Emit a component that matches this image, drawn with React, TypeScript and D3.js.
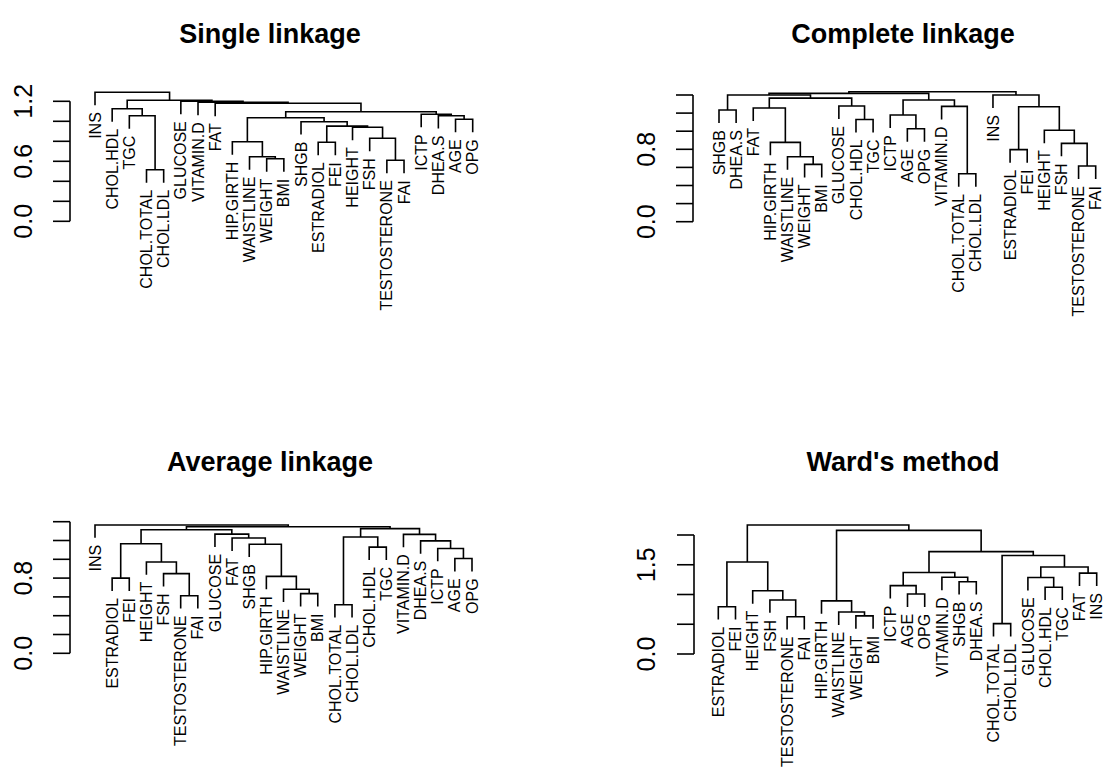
import React from 'react';
import * as d3 from 'd3';

type Child = string | number; // string = leaf label, number = 1-based index of an earlier merge
type Merge = [Child, Child, number];

// ---- Single linkage ----
const singleMerges: Merge[] = [
  ['CHOL.TOTAL', 'CHOL.LDL', 0.515],
  ['TGC', 1, 1.055],
  ['CHOL.HDL', 2, 1.125],
  ['WEIGHT', 'BMI', 0.625],
  ['WAISTLINE', 4, 0.645],
  ['HIP.GIRTH', 5, 0.795],
  ['TESTOSTERONE', 'FAI', 0.61],
  ['FSH', 7, 0.83],
  ['HEIGHT', 8, 0.94],
  ['ESTRADIOL', 'FEI', 0.79],
  [10, 9, 0.952],
  ['SHGB', 11, 0.996],
  [6, 12, 1.035],
  ['AGE', 'OPG', 1.02],
  ['DHEA.S', 14, 1.056],
  ['ICTP', 15, 1.07],
  [13, 16, 1.096],
  ['FAT', 17, 1.18],
  ['VITAMIN.D', 18, 1.19],
  ['GLUCOSE', 19, 1.2],
  [3, 20, 1.21],
  ['INS', 21, 1.29],
];
const singleTicks = [0, 0.2, 0.4, 0.6, 0.8, 1.0, 1.2];
const singleTickLabels = [0, 0.6, 1.2];

// ---- Complete linkage ----
const completeMerges: Merge[] = [
  ['SHGB', 'DHEA.S', 1.234],
  ['WEIGHT', 'BMI', 0.633],
  ['WAISTLINE', 2, 0.718],
  ['HIP.GIRTH', 3, 0.877],
  ['FAT', 4, 1.256],
  ['CHOL.HDL', 'TGC', 1.13],
  ['GLUCOSE', 6, 1.278],
  [5, 7, 1.365],
  [1, 8, 1.4],
  ['AGE', 'OPG', 1.027],
  ['ICTP', 10, 1.179],
  ['CHOL.TOTAL', 'CHOL.LDL', 0.53],
  ['VITAMIN.D', 12, 1.274],
  [11, 13, 1.345],
  [9, 14, 1.418],
  ['TESTOSTERONE', 'FAI', 0.615],
  ['FSH', 16, 0.866],
  ['HEIGHT', 17, 1.01],
  ['ESTRADIOL', 'FEI', 0.796],
  [19, 18, 1.27],
  ['INS', 20, 1.4],
  [15, 21, 1.436],
];
const completeTicks = [0, 0.2, 0.4, 0.6, 0.8, 1.0, 1.2, 1.4];
const completeTickLabels = [0, 0.8];

// ---- Average linkage ----
const averageMerges: Merge[] = [
  ['ESTRADIOL', 'FEI', 0.8],
  ['TESTOSTERONE', 'FAI', 0.612],
  ['FSH', 2, 0.848],
  ['HEIGHT', 3, 0.972],
  [1, 4, 1.165],
  ['WEIGHT', 'BMI', 0.635],
  ['WAISTLINE', 6, 0.682],
  ['HIP.GIRTH', 7, 0.818],
  ['SHGB', 8, 1.16],
  ['FAT', 9, 1.226],
  ['GLUCOSE', 10, 1.268],
  [5, 11, 1.315],
  ['CHOL.TOTAL', 'CHOL.LDL', 0.517],
  ['CHOL.HDL', 'TGC', 1.13],
  [13, 14, 1.237],
  ['AGE', 'OPG', 1.008],
  ['ICTP', 16, 1.115],
  ['DHEA.S', 17, 1.196],
  ['VITAMIN.D', 18, 1.265],
  [15, 19, 1.326],
  [12, 20, 1.347],
  ['INS', 21, 1.365],
];
const averageTicks = [0, 0.2, 0.4, 0.6, 0.8, 1.0, 1.2, 1.4];
const averageTickLabels = [0, 0.8];

// ---- Ward's method ----
const wardMerges: Merge[] = [
  ['ESTRADIOL', 'FEI', 0.795],
  ['TESTOSTERONE', 'FAI', 0.627],
  ['FSH', 2, 0.908],
  ['HEIGHT', 3, 1.062],
  [1, 4, 1.546],
  ['WEIGHT', 'BMI', 0.641],
  ['WAISTLINE', 6, 0.705],
  ['HIP.GIRTH', 7, 0.893],
  ['AGE', 'OPG', 1.008],
  ['ICTP', 9, 1.15],
  ['SHGB', 'DHEA.S', 1.215],
  ['VITAMIN.D', 11, 1.289],
  [10, 12, 1.37],
  ['CHOL.TOTAL', 'CHOL.LDL', 0.51],
  ['CHOL.HDL', 'TGC', 1.123],
  ['GLUCOSE', 15, 1.286],
  ['FAT', 'INS', 1.36],
  [16, 17, 1.462],
  [14, 18, 1.655],
  [13, 19, 1.72],
  [8, 20, 2.077],
  [5, 21, 2.168],
];
const wardTicks = [0, 0.5, 1.0, 1.5, 2.0];
const wardTickLabels = [0, 1.5];

const titles = ['Single linkage', 'Complete linkage', 'Average linkage', "Ward's method"];

interface Layout {
  titleX: number;
  titleY: number;
  axisX: number;
  y0: number;
  ppu: number;
  xFirst: number;
  xLast: number;
  labelX: number;
}

const FONT = 'Liberation Sans, Arial, Helvetica, sans-serif';
const LW = 1.6;

function Dendrogram(props: {
  merges: Merge[];
  ticks: number[];
  tickLabels: number[];
  title: string;
  layout: Layout;
}) {
  const { merges, ticks, tickLabels, title, layout } = props;
  const n = merges.length;
  const rootH = merges[n - 1][2];
  const hang = 0.1 * rootH;

  // leaf order by depth-first traversal
  const order: string[] = [];
  const walk = (c: Child) => {
    if (typeof c === 'string') order.push(c);
    else {
      walk(merges[c - 1][0]);
      walk(merges[c - 1][1]);
    }
  };
  walk(n);

  const x = d3.scalePoint<string>().domain(order).range([layout.xFirst, layout.xLast]);
  const y = d3.scaleLinear().domain([0, 1]).range([layout.y0, layout.y0 - layout.ppu]);

  const nodeX: number[] = [];
  const cx = (c: Child): number => (typeof c === 'string' ? (x(c) as number) : nodeX[c - 1]);
  merges.forEach((m, i) => {
    nodeX[i] = (cx(m[0]) + cx(m[1])) / 2;
  });

  const paths: string[] = [];
  const leaves: { name: string; x: number; yb: number }[] = [];
  merges.forEach((m) => {
    const h = m[2];
    const childY = (c: Child) => {
      if (typeof c === 'string') {
        const yb = y(h - hang);
        leaves.push({ name: c, x: x(c) as number, yb });
        return yb;
      }
      return y(merges[c - 1][2]);
    };
    const xa = cx(m[0]);
    const xb = cx(m[1]);
    const ya = childY(m[0]);
    const yb = childY(m[1]);
    const p = d3.path();
    p.moveTo(xa, ya);
    p.lineTo(xa, y(h));
    p.lineTo(xb, y(h));
    p.lineTo(xb, yb);
    paths.push(p.toString());
  });

  const fmt = d3.format('.1f');
  const tMin = d3.min(ticks) as number;
  const tMax = d3.max(ticks) as number;

  return (
    <g>
      <text
        x={layout.titleX}
        y={layout.titleY}
        textAnchor="middle"
        fontFamily={FONT}
        fontWeight="bold"
        fontSize={27}
        fill="#000"
      >
        {title}
      </text>
      {/* y axis */}
      <line x1={layout.axisX} x2={layout.axisX} y1={y(tMin)} y2={y(tMax)} stroke="#000" strokeWidth={LW} />
      {ticks.map((t) => (
        <line key={t} x1={layout.axisX - 17} x2={layout.axisX} y1={y(t)} y2={y(t)} stroke="#000" strokeWidth={LW} />
      ))}
      {tickLabels.map((t) => (
        <text
          key={t}
          transform={`translate(${layout.labelX},${y(t)}) rotate(-90)`}
          textAnchor="middle"
          dy="0.35em"
          fontFamily={FONT}
          fontSize={25}
          fill="#000"
        >
          {fmt(t)}
        </text>
      ))}
      {paths.map((d, i) => (
        <path key={i} d={d} fill="none" stroke="#000" strokeWidth={LW} />
      ))}
      {leaves.map((l) => (
        <text
          key={l.name}
          transform={`translate(${l.x},${l.yb + 7}) rotate(-90)`}
          textAnchor="end"
          dy="0.35em"
          fontFamily={FONT}
          fontSize={16}
          fill="#000"
        >
          {l.name}
        </text>
      ))}
    </g>
  );
}

const layouts: Layout[] = [
  { titleX: 270, titleY: 43, axisX: 70, y0: 221.3, ppu: 100, xFirst: 95, xLast: 472.7, labelX: 23 },
  { titleX: 903, titleY: 43, axisX: 693, y0: 221.7, ppu: 90.5, xFirst: 719, xLast: 1095.7, labelX: 646.7 },
  { titleX: 270, titleY: 471, axisX: 70, y0: 653.3, ppu: 94, xFirst: 95, xLast: 472, labelX: 23 },
  { titleX: 903, titleY: 471, axisX: 694, y0: 654, ppu: 59.5, xFirst: 718.3, xLast: 1096.7, labelX: 646.7 },
];

export default function App() {
  return (
    <svg
      width={1106}
      height={767}
      style={{ position: 'absolute', left: 0, top: 0, background: '#fff' }}
    >
      <rect width={1106} height={767} fill="#fff" />
      <Dendrogram merges={singleMerges} ticks={singleTicks} tickLabels={singleTickLabels} title={titles[0]} layout={layouts[0]} />
      <Dendrogram merges={completeMerges} ticks={completeTicks} tickLabels={completeTickLabels} title={titles[1]} layout={layouts[1]} />
      <Dendrogram merges={averageMerges} ticks={averageTicks} tickLabels={averageTickLabels} title={titles[2]} layout={layouts[2]} />
      <Dendrogram merges={wardMerges} ticks={wardTicks} tickLabels={wardTickLabels} title={titles[3]} layout={layouts[3]} />
    </svg>
  );
}
